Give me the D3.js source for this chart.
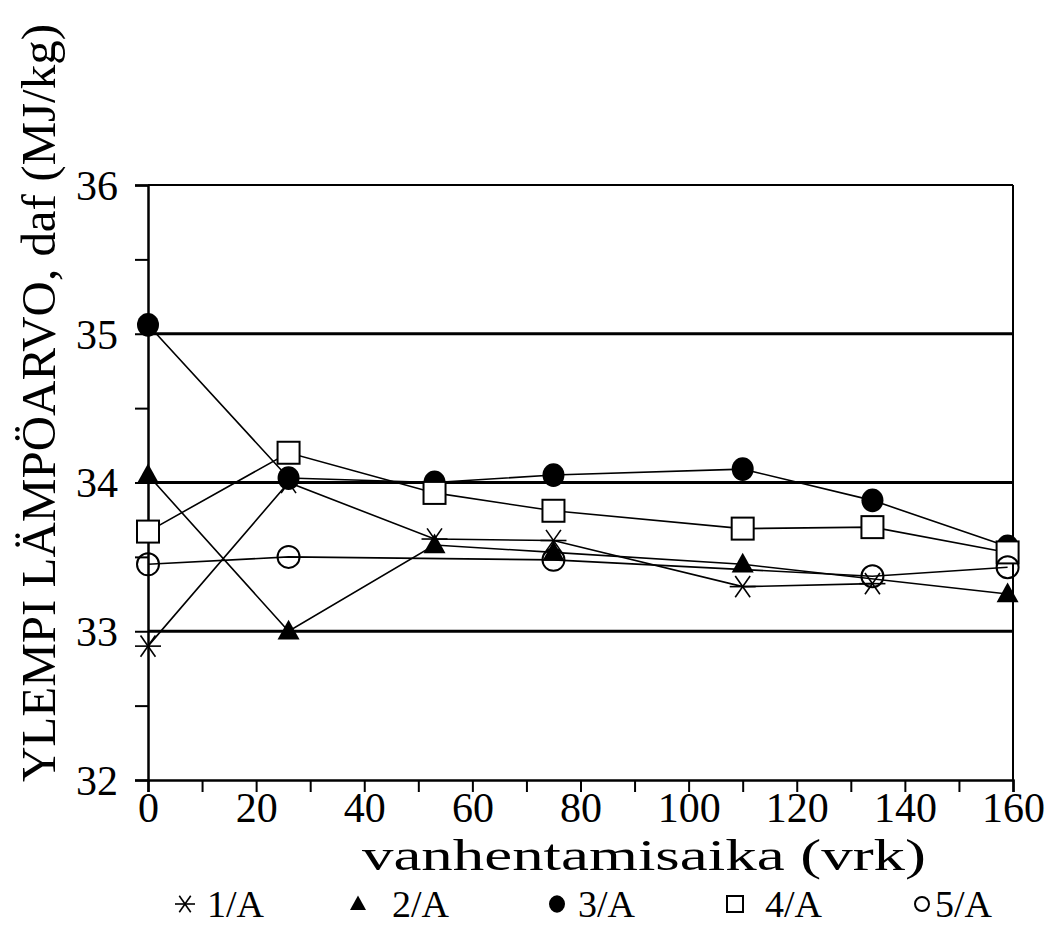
<!DOCTYPE html>
<html>
<head>
<meta charset="utf-8">
<script src="https://cdn.jsdelivr.net/npm/d3@7"></script>
<style>
  body { margin: 0; background: #fff; }
  text { font-family: "Liberation Serif", "DejaVu Serif", serif; fill: #000; }
</style>
</head>
<body>
<svg></svg>
<script>
// Data (days of ageing vs. higher heating value, daf)
var days = [0, 26, 53, 75, 110, 134, 159]
var s1A = [32.9, 34.0, 33.62, 33.61, 33.3, 33.32, null]
var s2A = [34.05, 33.0, 33.58, 33.53, 33.45, null, 33.25]
var s3A = [35.06, 34.03, 34.0, 34.05, 34.09, 33.88, 33.57]
var s4A = [33.67, 34.2, 33.93, 33.81, 33.69, 33.7, 33.53]
var s5A = [33.45, 33.5, null, 33.48, null, 33.37, 33.43]
var seriesNames = ["1/A", "2/A", "3/A", "4/A", "5/A"]
var seriesSymbols = ["star", "triangle", "dot", "square", "circle"]
var gridValues = [33, 34, 35]

var width = 1050,
    height = 927

var svg = d3.select("svg")
    .attr("width", width)
    .attr("height", height)

var x = d3.scaleLinear().domain([0, 160]).range([148, 1013])
var y = d3.scaleLinear().domain([32, 36]).range([780, 185])

// Frame: top and right lines
svg.append("line")
    .attr("x1", x(0)).attr("x2", x(160))
    .attr("y1", y(36)).attr("y2", y(36))
    .style("stroke", "#000").style("stroke-width", 2)
svg.append("line")
    .attr("x1", x(160)).attr("x2", x(160))
    .attr("y1", y(36)).attr("y2", y(32))
    .style("stroke", "#000").style("stroke-width", 2)

// Heavy horizontal lines at whole units
svg.selectAll(".grid")
    .data(gridValues)
    .enter().append("line")
    .attr("class", "grid")
    .attr("x1", x(0)).attr("x2", x(160))
    .attr("y1", y).attr("y2", y)
    .style("stroke", "#000").style("stroke-width", 3.2)

// Axes
var yAxis = svg.append("g")
    .attr("transform", "translate(" + x(0) + ",0)")
    .call(d3.axisLeft(y)
        .tickValues(d3.range(32, 36.01, 0.5))
        .tickSize(13)
        .tickPadding(17)
        .tickFormat(function(d) { return d % 1 === 0 ? d : "" }))
var xAxis = svg.append("g")
    .attr("transform", "translate(0," + y(32) + ")")
    .call(d3.axisBottom(x)
        .tickValues(d3.range(0, 161, 10))
        .tickSize(12)
        .tickPadding(0)
        .tickFormat(function(d) { return d % 20 === 0 ? d : "" }))

for (var ax of [xAxis, yAxis]) {
    ax.select(".domain").style("stroke-width", 2.5)
    ax.selectAll(".tick line").style("stroke-width", 2)
    ax.selectAll("text").style("font-size", "42px")
}
yAxis.selectAll("text").attr("dy", "0.34em")

// Symbols
function drawSymbol(g, type, r) {
    if (type === "star") {
        for (var a of [0, 55, 125]) {
            var rad = a * Math.PI / 180
            g.append("line")
                .attr("x1", -r * Math.cos(rad)).attr("y1", -r * Math.sin(rad))
                .attr("x2", r * Math.cos(rad)).attr("y2", r * Math.sin(rad))
                .style("stroke", "#000").style("stroke-width", 1.6)
        }
    } else if (type === "triangle") {
        g.append("path")
            .attr("d", "M0," + (-r * 1.05) + "L" + r + "," + (r * 0.75) + "L" + (-r) + "," + (r * 0.75) + "Z")
            .style("fill", "#000")
    } else if (type === "dot") {
        g.append("ellipse").attr("rx", r).attr("ry", r * 1.08).style("fill", "#000")
    } else if (type === "square") {
        g.append("rect")
            .attr("x", -r).attr("y", -r).attr("width", 2 * r).attr("height", 2 * r)
            .style("fill", "#fff").style("stroke", "#000").style("stroke-width", 2)
    } else if (type === "circle") {
        g.append("circle").attr("r", r)
            .style("fill", "none").style("stroke", "#000").style("stroke-width", 2)
    }
}

var allSeries = [s1A, s2A, s3A, s4A, s5A]
var line = d3.line()
    .x(function(d) { return x(d[0]) })
    .y(function(d) { return y(d[1]) })

allSeries.forEach(function(vals, i) {
    var pts = days.map(function(d, j) { return [d, vals[j]] })
        .filter(function(p) { return p[1] !== null })
    svg.append("path")
        .datum(pts)
        .attr("d", line)
        .style("fill", "none")
        .style("stroke", "#000")
        .style("stroke-width", 1.6)
    pts.forEach(function(p) {
        var g = svg.append("g")
            .attr("transform", "translate(" + x(p[0]) + "," + y(p[1]) + ")")
        drawSymbol(g, seriesSymbols[i], seriesSymbols[i] === "star" ? 13 : 11)
    })
})

// Axis titles
svg.append("text")
    .attr("x", 362)
    .attr("y", 870)
    .attr("textLength", 564)
    .attr("lengthAdjust", "spacingAndGlyphs")
    .style("font-size", "44px")
    .text("vanhentamisaika (vrk)")

svg.append("text")
    .attr("transform", "translate(55,782) rotate(-90)")
    .attr("textLength", 758)
    .attr("lengthAdjust", "spacingAndGlyphs")
    .style("font-size", "48px")
    .text("YLEMPI LÄMPÖARVO, daf (MJ/kg)")

// Legend
var legendSymbolX = [185, 358, 557, 735, 922]
var legendTextX = [207, 392, 578, 765, 935]
var legendSize = [10, 8, 8, 8, 7]
seriesNames.forEach(function(name, i) {
    var g = svg.append("g")
        .attr("transform", "translate(" + legendSymbolX[i] + ",904)")
    drawSymbol(g, seriesSymbols[i], legendSize[i])
    svg.append("text")
        .attr("x", legendTextX[i])
        .attr("y", 917)
        .style("font-size", "38px")
        .text(name)
})
</script>
</body>
</html>
